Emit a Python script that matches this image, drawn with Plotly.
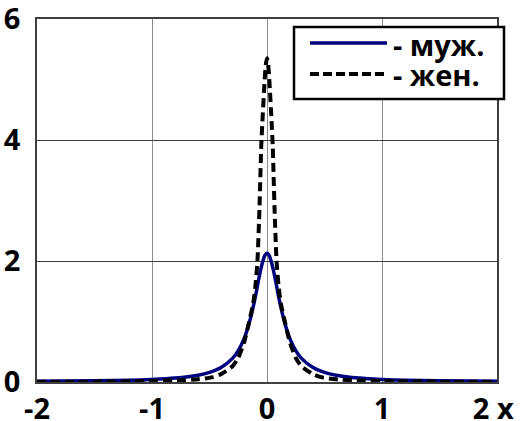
import plotly.graph_objects as go

# ---- data ----
x_male = [-2.0, -1.5, -1.2, -1.0, -0.8, -0.6, -0.5, -0.4, -0.3, -0.25, -0.2, -0.16, -0.13, -0.1, -0.08, -0.06, -0.04, -0.02,
          0.0, 0.02, 0.04, 0.06, 0.08, 0.1, 0.13, 0.16, 0.2, 0.25, 0.3, 0.4, 0.5, 0.6, 0.8, 1.0, 1.2, 1.5, 2.0]
y_male = [0.011, 0.019, 0.029, 0.042, 0.065, 0.113, 0.159, 0.238, 0.39, 0.52, 0.714, 0.94, 1.16, 1.42, 1.62, 1.81, 1.97, 2.09,
          2.13, 2.09, 1.97, 1.81, 1.62, 1.42, 1.16, 0.94, 0.714, 0.52, 0.39, 0.238, 0.159, 0.113, 0.065, 0.042, 0.029, 0.019, 0.011]

x_female = [-2.0, -1.5, -1.0, -0.8, -0.6, -0.47, -0.4, -0.3, -0.25, -0.2, -0.155, -0.12, -0.1, -0.083, -0.065, -0.05, -0.04, -0.02, -0.01,
            0.0, 0.01, 0.02, 0.04, 0.05, 0.065, 0.083, 0.1, 0.12, 0.155, 0.2, 0.25, 0.3, 0.4, 0.47, 0.6, 0.8, 1.0, 1.5, 2.0]
y_female = [0.003, 0.006, 0.015, 0.025, 0.045, 0.08, 0.13, 0.26, 0.4, 0.65, 1.0, 1.3, 1.6, 2.0, 2.9, 3.9, 4.3, 5.0, 5.25,
            5.35, 5.25, 5.0, 4.3, 3.9, 2.9, 2.0, 1.6, 1.3, 1.0, 0.65, 0.4, 0.26, 0.13, 0.08, 0.045, 0.025, 0.015, 0.006, 0.003]

x_ticks = [-2, -1, 0, 1, 2]
x_tick_labels = ["-2", "-1", "0", "1", "2\u00a0x\u00a0"]
y_ticks = [0, 2, 4, 6]
y_tick_labels = ["0", "2", "4", "6"]
legend_labels = ["- муж.", "- жен."]

# ---- layout geometry (pixels) ----
W, H = 521, 421
L, R, T, B = 37, 497, 19, 382
FONT = "Open Sans"


def px(xp, yp):
    return (xp - L) / (R - L), (B - yp) / (B - T)


fig = go.Figure()
fig.add_trace(go.Scatter(x=x_male, y=y_male, mode="lines", name="муж.",
                         line=dict(color="#00007f", width=3.5, shape="spline", smoothing=0.6)))
fig.add_trace(go.Scatter(x=x_female, y=y_female, mode="lines", name="жен.",
                         line=dict(color="black", width=4, dash="9px,5px", shape="spline", smoothing=0.6)))

shapes = []
annotations = []
bx0, by0 = px(294, 99)
bx1, by1 = px(504, 27)
shapes.append(dict(type="rect", xref="paper", yref="paper", x0=bx0, y0=by0, x1=bx1, y1=by1,
                   line=dict(color="black", width=2.5), fillcolor="white", layer="above"))
styles = [dict(color="#00007f", width=3.5), dict(color="black", width=4, dash="9px,4px")]
line_y = [43, 74]
text_y = [44, 74]
for lab, st, ly_px, ty_px in zip(legend_labels, styles, line_y, text_y):
    lx0, ly = px(310, ly_px)
    lx1, _ = px(387, ly_px)
    shapes.append(dict(type="line", xref="paper", yref="paper", x0=lx0, x1=lx1, y0=ly, y1=ly,
                       line=st, layer="above"))
    tx, ty = px(393, ty_px)
    annotations.append(dict(xref="paper", yref="paper", x=tx, y=ty, xanchor="left", yanchor="middle",
                            text=lab, showarrow=False, borderpad=0, borderwidth=0,
                            font=dict(family=FONT, size=29, color="black", weight="bold")))

tick_font = dict(family=FONT, size=29, color="black", weight="bold")
fig.update_layout(
    width=W, height=H,
    margin=dict(l=L, r=W - R, t=T, b=H - B, pad=0, autoexpand=False),
    paper_bgcolor="white", plot_bgcolor="white",
    showlegend=False,
    shapes=shapes, annotations=annotations,
    xaxis=dict(range=[-2, 2], tickvals=x_ticks, ticktext=x_tick_labels, automargin=False,
               showgrid=True, gridcolor="#8c8c8c", gridwidth=1,
               showline=True, linecolor="#404040", linewidth=1.5, mirror=True,
               zeroline=False, ticks="", ticklabelstandoff=0, ticklabeloverflow="allow",
               tickfont=tick_font),
    yaxis=dict(range=[0, 6], tickvals=y_ticks, ticktext=y_tick_labels, automargin=False,
               showgrid=True, gridcolor="#404040", gridwidth=1,
               showline=True, linecolor="#404040", linewidth=1.5, mirror=True,
               zeroline=False, ticks="", ticklabelstandoff=9, ticklabeloverflow="allow",
               tickfont=tick_font),
)

fig.write_html("out.html")
